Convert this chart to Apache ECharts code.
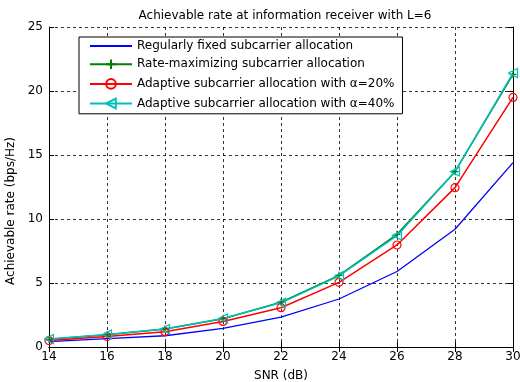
<!DOCTYPE html>
<html>
<head>
<meta charset="utf-8">
<script src="https://cdn.jsdelivr.net/npm/echarts@6/dist/echarts.min.js"></script>
<style>
html,body{margin:0;padding:0;background:#fff;}
#chart{width:520px;height:382px;}
</style>
</head>
<body>
<div id="chart"></div>
<script>
const snr = [14, 16, 18, 20, 22, 24, 26, 28, 30];
const regularlyFixed = [0.42, 0.65, 0.88, 1.46, 2.34, 3.75, 5.9, 9.2, 14.4];
const rateMaximizing = [0.6, 0.95, 1.4, 2.2, 3.5, 5.6, 8.8, 13.7, 21.3];
const adaptive20 = [0.5, 0.82, 1.2, 2.0, 3.07, 5.05, 7.97, 12.45, 19.5];
const adaptive40 = [0.62, 0.98, 1.4, 2.22, 3.45, 5.55, 8.7, 13.7, 21.4];
const seriesNames = [
  'Regularly fixed subcarrier allocation',
  'Rate-maximizing subcarrier allocation',
  'Adaptive subcarrier allocation with \u03b1=20%',
  'Adaptive subcarrier allocation with \u03b1=40%'
];
const titleText = 'Achievable rate at information receiver with L=6';
const xName = 'SNR (dB)';
const yName = 'Achievable rate (bps/Hz)';

const pairs = ys => snr.map((x, i) => [x, ys[i]]);
const FONT = 'DejaVu Sans, sans-serif';
const FS = 12;

const chart = echarts.init(document.getElementById('chart'), null, {renderer: 'canvas'});
const gridLine = {show: true, lineStyle: {color: '#000', type: [3, 3], width: 0.8}};
const tick = {show: true, inside: true, length: 5, lineStyle: {color: '#000'}};
const axisLine = {show: true, lineStyle: {color: '#000', width: 1}};

chart.setOption({
  animation: false,
  backgroundColor: '#fff',
  title: {
    text: titleText, left: 280, top: 5, textAlign: 'center',
    textStyle: {fontFamily: FONT, fontSize: FS, fontWeight: 'normal', color: '#000'}
  },
  grid: {left: 49, right: 7, top: 27, bottom: 35, containLabel: false, outerBoundsMode: 'none'},
  legend: {
    orient: 'vertical', left: 79, top: 37,
    backgroundColor: '#fff', borderColor: '#000', borderWidth: 1,
    padding: [3, 8, 3, 10], itemWidth: 42, itemHeight: 12, itemGap: 5,
    textStyle: {fontFamily: FONT, fontSize: FS, color: '#000'},
    data: [
      {name: seriesNames[0], itemStyle: {color: 'none', borderWidth: 0, opacity: 0}},
      seriesNames[1], seriesNames[2], seriesNames[3]
    ]
  },
  xAxis: [{
    type: 'value', min: 14, max: 30, interval: 2,
    name: xName, nameLocation: 'middle', nameGap: 23,
    nameTextStyle: {fontFamily: FONT, fontSize: FS, color: '#000'},
    axisLine: axisLine, axisTick: tick, splitLine: gridLine,
    axisLabel: {fontFamily: FONT, fontSize: FS, color: '#000', margin: 4}
  }, {
    type: 'value', min: 14, max: 30, interval: 2, position: 'top',
    axisLine: axisLine, axisTick: tick, splitLine: {show: false},
    axisLabel: {show: false}
  }],
  yAxis: [{
    type: 'value', min: 0, max: 25, interval: 5,
    name: yName, nameLocation: 'middle', nameGap: 27,
    nameTextStyle: {fontFamily: FONT, fontSize: FS, color: '#000', padding: [0, 48, 0, 0]},
    axisLine: axisLine, axisTick: tick, splitLine: gridLine,
    axisLabel: {fontFamily: FONT, fontSize: FS, color: '#000', margin: 6}
  }, {
    type: 'value', min: 0, max: 25, interval: 5, position: 'right',
    axisLine: axisLine, axisTick: tick, splitLine: {show: false},
    axisLabel: {show: false}
  }],
  series: [{
    name: seriesNames[0], type: 'line', data: pairs(regularlyFixed),
    showSymbol: false, symbol: 'none',
    lineStyle: {color: '#0000ff', width: 1.3},
    itemStyle: {color: '#0000ff'}
  }, {
    name: seriesNames[1], type: 'line', data: pairs(rateMaximizing),
    symbol: 'path://M0,5L10,5M5,0L5,10', symbolSize: 7,
    lineStyle: {color: '#008000', width: 1.5},
    itemStyle: {color: 'none', borderColor: '#008000', borderWidth: 1.2}
  }, {
    name: seriesNames[2], type: 'line', data: pairs(adaptive20),
    symbol: 'circle', symbolSize: 8,
    lineStyle: {color: '#ff0000', width: 1.5},
    itemStyle: {color: 'none', borderColor: '#ff0000', borderWidth: 1.2}
  }, {
    name: seriesNames[3], type: 'line', data: pairs(adaptive40),
    symbol: 'triangle', symbolSize: 9, symbolRotate: 90,
    lineStyle: {color: '#00bfbf', width: 1.5},
    itemStyle: {color: 'none', borderColor: '#00bfbf', borderWidth: 1.2}
  }]
});
</script>
</body>
</html>
